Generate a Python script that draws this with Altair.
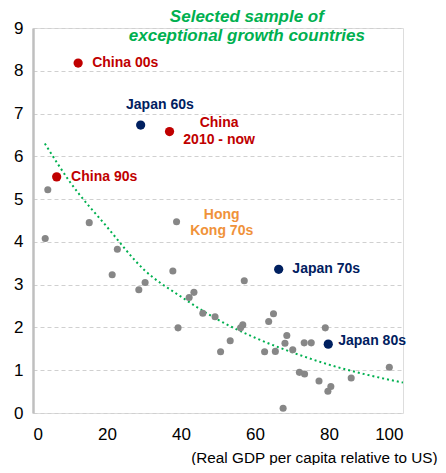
import altair as alt
import pandas as pd

# Gray sample points (x: real GDP per capita relative to US, y: growth)
gray_x = [4.0, 15.2, 3.3, 38.8, 22.8, 21.4, 37.8, 57.1, 28.6, 30.3, 42.2, 43.5,
          39.2, 45.9, 49.2, 56.7, 56.1, 53.3, 50.7, 63.7, 65.0, 62.6, 65.5, 68.6,
          68.1, 70.2, 73.3, 75.2, 79.0, 72.0, 73.4, 77.3, 80.5, 79.7, 86.0, 96.3, 67.6]
gray_y = [5.22, 4.45, 4.08, 4.47, 3.83, 3.23, 3.32, 3.09, 2.88, 3.05, 2.70, 2.82,
          1.99, 2.33, 2.25, 2.06, 1.99, 1.69, 1.43, 2.14, 2.32, 1.43, 1.44, 1.81,
          1.63, 1.48, 1.64, 1.64, 1.99, 0.95, 0.91, 0.75, 0.62, 0.51, 0.82, 1.07, 0.11]

# Highlighted points
hl_name = ["China 00s", "Japan 60s", "China 2010 - now", "China 90s", "Japan 70s", "Japan 80s"]
hl_x = [12.2, 29.1, 36.9, 6.4, 66.4, 79.8]
hl_y = [8.18, 6.73, 6.58, 5.52, 3.36, 1.61]
hl_group = ["China", "Japan", "China", "China", "Japan", "Japan"]

# Trend line
trend_x = [3.2, 10, 20, 30, 40, 50, 60, 70, 80, 90, 100]
trend_y = [6.30, 5.40, 4.35, 3.35, 2.72, 2.18, 1.76, 1.42, 1.13, 0.90, 0.71]

# Labels
lab_text = ["China 00s", "China 90s", "Japan 70s", "Japan 80s"]
lab_x = [16.0, 10.3, 70.1, 82.5]
lab_y = [8.18, 5.52, 3.36, 1.69]
lab_color = ["#C00000", "#C00000", "#002060", "#002060"]

clab_text = ["Japan 60s", "China", "2010 - now", "Hong", "Kong 70s"]
clab_x = [34.3, 50.3, 50.3, 51.0, 51.0]
clab_y = [7.21, 6.78, 6.38, 4.64, 4.25]
clab_color = ["#002060", "#C00000", "#C00000", "#F0923A", "#F0923A"]

title_lines = ["Selected sample of", "exceptional growth countries"]
title_x = [57.8, 57.8]
title_y = [9.25, 8.82]

FONT = "Liberation Sans"

gray_df = pd.DataFrame({"x": gray_x, "y": gray_y})
hl_df = pd.DataFrame({"name": hl_name, "x": hl_x, "y": hl_y, "group": hl_group})
trend_df = pd.DataFrame({"x": trend_x, "y": trend_y})
lab_df = pd.DataFrame({"t": lab_text, "x": lab_x, "y": lab_y, "c": lab_color})
clab_df = pd.DataFrame({"t": clab_text, "x": clab_x, "y": clab_y, "c": clab_color})
title_df = pd.DataFrame({"t": title_lines, "x": title_x, "y": title_y})

xs = alt.Scale(domain=[0, 100], nice=False, zero=False)
ys = alt.Scale(domain=[0, 9], nice=False, zero=False)

x_enc = alt.X("x:Q", scale=xs, axis=alt.Axis(
    values=[0, 20, 40, 60, 80, 100], grid=False, domain=False, ticks=False,
    labelFontSize=17, labelFont=FONT, labelColor="#000000", labelPadding=13,
    title="(Real GDP per capita relative to US)", titleFont=FONT, titleFontSize=15.3,
    titleFontWeight="normal", titleColor="#000000", titleAlign="right",
    titleBaseline="middle", titleX=404, titleY=44, titleAnchor="end"))
y_enc = alt.Y("y:Q", scale=ys, axis=alt.Axis(
    values=list(range(0, 10)), grid=True, gridDash=[4, 3], gridColor="#D0D0D0",
    gridWidth=1, domain=True, domainColor="#BFBFBF", domainWidth=2.5, ticks=False,
    labelFontSize=17, labelFont=FONT, labelColor="#000000", labelPadding=10,
    title=None))

trend = alt.Chart(trend_df).mark_line(
    color="#00B050", strokeDash=[2, 3], strokeWidth=2, interpolate="monotone"
).encode(x=x_enc, y=y_enc)

gray = alt.Chart(gray_df).mark_circle(size=50, color="#878787", opacity=1).encode(
    x="x:Q", y="y:Q")

hl = alt.Chart(hl_df).mark_circle(size=85, opacity=1).encode(
    x="x:Q", y="y:Q",
    color=alt.Color("group:N", scale=alt.Scale(domain=["China", "Japan"],
                                               range=["#C00000", "#002060"]), legend=None))

labels = alt.Chart(lab_df).mark_text(
    align="left", baseline="middle", font=FONT, fontSize=14, fontWeight="bold"
).encode(x="x:Q", y="y:Q", text="t:N", color=alt.Color("c:N", scale=None))

clabels = alt.Chart(clab_df).mark_text(
    align="center", baseline="middle", font=FONT, fontSize=14, fontWeight="bold"
).encode(x="x:Q", y="y:Q", text="t:N", color=alt.Color("c:N", scale=None))

title = alt.Chart(title_df).mark_text(
    align="center", baseline="middle", font=FONT, fontSize=17, fontWeight="bold",
    fontStyle="italic", color="#00B050"
).encode(x="x:Q", y="y:Q", text="t:N")

chart = alt.layer(trend, gray, hl, labels, clabels, title).properties(
    width=370, height=385,
    padding={"left": 25, "top": 20, "right": 35, "bottom": 52},
    autosize=alt.AutoSizeParams(type="none"),
).configure_view(stroke=None).configure(background="white")

chart.save("out.html", embed_options={"renderer": "svg", "actions": False})
